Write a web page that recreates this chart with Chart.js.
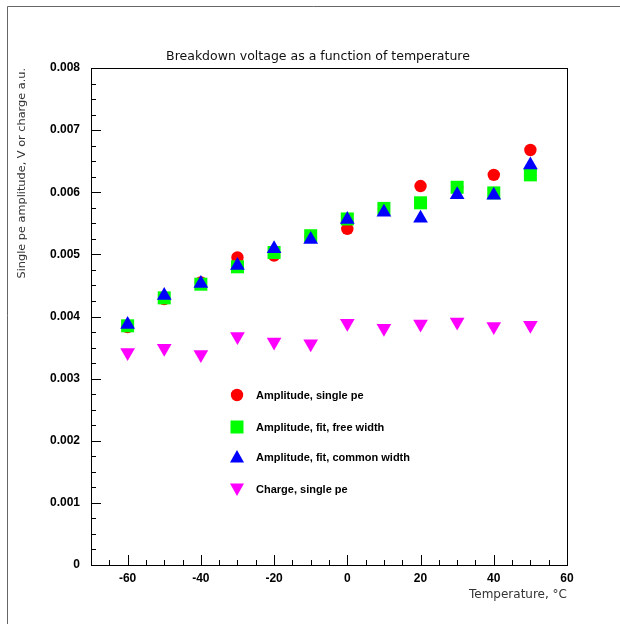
<!DOCTYPE html>
<html lang="en">
	<head>
		<meta charset="UTF-8"/>
		<title>Breakdown voltage as a function of temperature</title>
		<script src="https://cdn.jsdelivr.net/npm/chart.js"></script>
		<style>
			body { margin: 0; background: #fff; }
		</style>
	</head>
	<body>

		<canvas id="chart" width="620" height="624"></canvas>
		<script>

			// temperatures, degC
			const temps = [-60, -50, -40, -30, -20, -10, 0, 10, 20, 30, 40, 50];
			const ampSingle = [0.00383, 0.00428, 0.00455, 0.00495, 0.00498, 0.00528, 0.00541, 0.00573, 0.00610, 0.00607, 0.00628, 0.00668];
			const ampFree   = [0.00385, 0.00430, 0.00452, 0.00480, 0.00503, 0.00530, 0.00557, 0.00574, 0.00583, 0.00608, 0.00599, 0.00628];
			const ampCommon = [0.00387, 0.00434, 0.00453, 0.00482, 0.00509, 0.00524, 0.00556, 0.00568, 0.00558, 0.00596, 0.00595, 0.00644];
			const charge    = [0.00342, 0.00349, 0.00339, 0.00368, 0.00359, 0.00356, 0.00389, 0.00381, 0.00388, 0.00391, 0.00384, 0.00386];

			const seriesNames = ['Amplitude, single pe', 'Amplitude, fit, free width', 'Amplitude, fit, common width', 'Charge, single pe'];
			const xTicks = [-60, -40, -20, 0, 20, 40, 60];
			const yTicks = [0, 0.001, 0.002, 0.003, 0.004, 0.005, 0.006, 0.007, 0.008];

			const toPoints = arr => arr.map((v, i) => ({x: temps[i], y: v}));

			const styles = [
				{color: '#ff0000', pointStyle: 'circle', radius: 6.2, rotation: 0},
				{color: '#00ff00', pointStyle: 'rect', radius: 9.2, rotation: 0},
				{color: '#0000ff', pointStyle: 'triangle', radius: 8.5, rotation: 0},
				{color: '#ff00ff', pointStyle: 'triangle', radius: 8.5, rotation: 180}
			];
			const values = [ampSingle, ampFree, ampCommon, charge];

			const datasets = values.map((arr, i) => ({
				label: seriesNames[i],
				data: toPoints(arr),
				pointStyle: styles[i].pointStyle,
				pointRadius: styles[i].radius,
				pointHoverRadius: styles[i].radius,
				pointRotation: styles[i].rotation,
				pointBackgroundColor: styles[i].color,
				pointBorderWidth: 0,
				borderWidth: 0,
				showLine: false,
				order: 3 - i
			}));

			// ticks inside the frame, frame, title, legend
			const rootStyle = {
				id: 'rootStyle',
				afterDraw(chart) {
					const ctx = chart.ctx;
					const a = chart.chartArea;
					const xs = chart.scales.x, ys = chart.scales.y;
					ctx.save();
					ctx.lineWidth = 1;

					// outer pad border
					ctx.strokeStyle = '#666';
					ctx.beginPath();
					ctx.moveTo(7.5, 624);
					ctx.lineTo(7.5, 6.5);
					ctx.lineTo(620, 6.5);
					ctx.stroke();

					ctx.strokeStyle = '#000';
					ctx.strokeRect(Math.round(a.left) + 0.5, Math.round(a.top) + 0.5,
						Math.round(a.right - a.left), Math.round(a.bottom - a.top));

					ctx.beginPath();
					for (let t = -70; t <= 60; t += 5) {
						const px = Math.round(xs.getPixelForValue(t)) + 0.5;
						const len = (t % 20 === 0) ? 10 : 5;
						ctx.moveTo(px, a.bottom);
						ctx.lineTo(px, a.bottom - len);
					}
					for (let k = 0; k <= 32; k++) {
						const py = Math.round(ys.getPixelForValue(k * 0.00025)) + 0.5;
						const len = (k % 4 === 0) ? 10 : 5;
						ctx.moveTo(a.left, py);
						ctx.lineTo(a.left + len, py);
					}
					ctx.stroke();

					// title
					ctx.fillStyle = '#111';
					ctx.font = '12.5px "DejaVu Sans"';
					ctx.textAlign = 'center';
					ctx.textBaseline = 'middle';
					ctx.fillText('Breakdown voltage as a function of temperature', 318, 57);

					// legend
					const rowsY = [395, 427, 457, 489];
					ctx.font = 'bold 11px "Liberation Sans"';
					ctx.textAlign = 'left';
					chart.data.datasets.forEach((ds, i) => {
						const st = styles[i];
						const mx = 237, my = rowsY[i];
						ctx.fillStyle = st.color;
						ctx.beginPath();
						if (st.pointStyle === 'circle') {
							ctx.arc(mx, my, 6.2, 0, Math.PI * 2);
						} else if (st.pointStyle === 'rect') {
							ctx.rect(mx - 6.5, my - 6.5, 13, 13);
						} else if (st.rotation === 0) {
							ctx.moveTo(mx, my - 7);
							ctx.lineTo(mx + 7, my + 5.5);
							ctx.lineTo(mx - 7, my + 5.5);
						} else {
							ctx.moveTo(mx, my + 7);
							ctx.lineTo(mx + 7, my - 5.5);
							ctx.lineTo(mx - 7, my - 5.5);
						}
						ctx.closePath();
						ctx.fill();
						ctx.fillStyle = '#000';
						ctx.fillText(ds.label, 256, my + 1);
					});
					ctx.restore();
				}
			};

			const ctx = document.getElementById('chart').getContext('2d');
			const myChart = new Chart(ctx, {
				type: 'scatter',
				data: { datasets: datasets },
				options: {
					responsive: false,
					animation: false,
					layout: { padding: { top: 68, right: 53, left: 0, bottom: 0 } },
					plugins: {
						legend: { display: false },
						tooltip: { enabled: false },
						title: { display: false }
					},
					scales: {
						x: {
							type: 'linear',
							min: -70,
							max: 60,
							afterFit: s => { s.height = 59; },
							afterBuildTicks: s => { s.ticks = xTicks.map(v => ({value: v})); },
							grid: { display: false, drawTicks: false },
							border: { display: false },
							ticks: {
								color: '#000',
								font: { family: 'Liberation Sans', size: 12, weight: 'bold' },
								padding: 6,
								maxRotation: 0,
								autoSkip: false
							},
							title: {
								display: true,
								text: 'Temperature, °C',
								align: 'end',
								color: '#333',
								font: { family: 'DejaVu Sans', size: 12 },
								padding: { top: 0, bottom: 22 }
							}
						},
						y: {
							type: 'linear',
							min: 0,
							max: 0.008,
							afterFit: s => { s.width = 91; },
							afterBuildTicks: s => { s.ticks = yTicks.map(v => ({value: v})); },
							grid: { display: false, drawTicks: false },
							border: { display: false },
							ticks: {
								color: '#000',
								font: { family: 'Liberation Sans', size: 12, weight: 'bold' },
								padding: 11,
								autoSkip: false,
								callback: v => v === 0 ? '0' : v.toFixed(3)
							},
							title: {
								display: true,
								text: 'Single pe amplitude, V or charge a.u.',
								align: 'end',
								color: '#333',
								font: { family: 'DejaVu Sans', size: 11.3 },
								padding: { top: 15, bottom: 0 }
							}
						}
					}
				},
				plugins: [rootStyle]
			});
		</script>

	</body>
</html>
